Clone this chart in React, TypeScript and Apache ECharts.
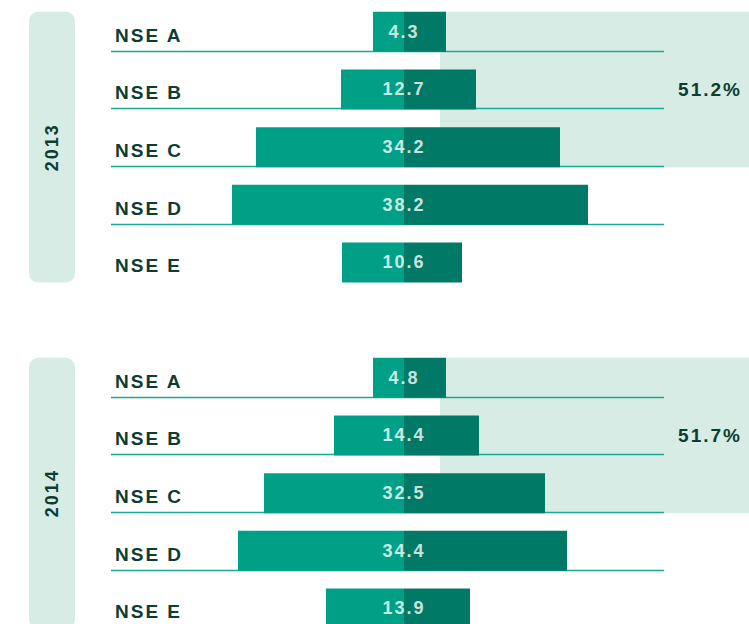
import React, { useEffect, useRef } from 'react';
import * as echarts from 'echarts';

const years = ['2013', '2014'];
const segments = ['NSE A', 'NSE B', 'NSE C', 'NSE D', 'NSE E'];
const values2013 = [4.3, 12.7, 34.2, 38.2, 10.6];
const values2014 = [4.8, 14.4, 32.5, 34.4, 13.9];
// bar extents either side of the centre line (axis units)
const lightLen2013 = [3.1, 6.3, 14.8, 17.2, 6.2];
const darkLen2013 = [4.2, 7.2, 15.6, 18.4, 5.8];
const lightLen2014 = [3.1, 7.0, 14.0, 16.6, 7.8];
const darkLen2014 = [4.2, 7.5, 14.1, 16.3, 6.6];
const highlightedCount = 3; // NSE A–C share shown in the pale box

const FONT = "'Liberation Sans', Arial, Helvetica, sans-serif";
const TEXT_DARK = '#0d3d30';
const LIGHT = '#00a087';
const DARK = '#007a66';
const PALE = '#d8ece6';
const RULE = '#19ab91';
const CANVAS_H = 680;

export default function App() {
  const ref = useRef<HTMLDivElement>(null);

  useEffect(() => {
    const el = ref.current!;
    const chart = echarts.init(el, undefined, { renderer: 'svg', width: 749, height: CANVAS_H });

    const groups = [
      { year: years[0], values: values2013, light: lightLen2013, dark: darkLen2013 },
      { year: years[1], values: values2014, light: lightLen2014, dark: darkLen2014 },
    ];

    const categories: string[] = [];
    const lightData: any[] = [];
    const darkData: any[] = [];
    const labelData: any[] = [];
    const starts: number[] = [];
    groups.forEach((g, gi) => {
      if (gi > 0) {
        categories.push('gap');
        lightData.push('-');
        darkData.push('-');
      }
      starts.push(categories.length);
      segments.forEach((s, i) => {
        const idx = categories.length;
        categories.push(`${g.year}|${s}`);
        lightData.push(-g.light[i]);
        darkData.push(g.dark[i]);
        labelData.push({ value: [0, idx, g.values[i]] });
      });
    });

    const textStyleBase = {
      fontFamily: FONT,
      fontWeight: 'bold' as const,
      fontSize: 18,
    };

    chart.setOption({
      animation: false,
      grid: { left: 104, top: 3, width: 560, height: 634.3, containLabel: false },
      xAxis: { type: 'value', min: -30, max: 26, show: false },
      yAxis: {
        type: 'category',
        data: categories,
        inverse: true,
        axisLine: { show: false },
        axisTick: { show: false },
        splitLine: { show: false },
        axisLabel: {
          interval: 0,
          align: 'left',
          margin: -11,
          verticalAlign: 'top',
          lineHeight: 7,
          color: TEXT_DARK,
          ...textStyleBase,
          fontSize: 19,
          formatter: (v: string) => v.split('|')[1] ?? '',
        },
      },
      series: [
        {
          type: 'bar',
          stack: 'share',
          barWidth: 40,
          silent: true,
          itemStyle: { color: LIGHT },
          data: lightData,
          z: 3,
        },
        {
          type: 'bar',
          stack: 'share',
          barWidth: 40,
          silent: true,
          itemStyle: { color: DARK },
          data: darkData,
          z: 3,
        },
        {
          type: 'scatter',
          symbolSize: 1,
          silent: true,
          itemStyle: { color: 'rgba(0,0,0,0)' },
          data: labelData,
          z: 6,
          label: {
            show: true,
            position: 'inside',
            color: '#ffffff',
            ...textStyleBase,
            formatter: (p: any) => Number(p.value[2]).toFixed(1),
          },
        },
      ],
    });

    const yc = (row: number) => chart.convertToPixel({ yAxisIndex: 0 }, row) as number;
    const xp = (v: number) => chart.convertToPixel({ xAxisIndex: 0 }, v) as number;
    const half = 20;
    const graphics: any[] = [];
    groups.forEach((g, gi) => {
      const s = starts[gi];
      const top = yc(s) - half;
      const bottom = yc(s + segments.length - 1) + half;
      graphics.push({
        type: 'rect',
        z: 0,
        silent: true,
        shape: { x: 29, y: top, width: 46, height: bottom - top, r: 9 },
        style: { fill: PALE },
      });
      graphics.push({
        type: 'text',
        z: 1,
        silent: true,
        x: 52,
        y: (top + bottom) / 2,
        rotation: Math.PI / 2,
        style: {
          text: g.year,
          fill: TEXT_DARK,
          font: `bold 18px ${FONT}`,
          align: 'center',
          verticalAlign: 'middle',
        },
      });
      const boxTop = top;
      const boxBottom = yc(s + highlightedCount - 1) + half;
      const boxLeft = xp(3.6);
      graphics.push({
        type: 'rect',
        z: 0,
        silent: true,
        shape: { x: boxLeft, y: boxTop, width: 749 - boxLeft, height: boxBottom - boxTop },
        style: { fill: PALE },
      });
      const share = g.values.slice(0, highlightedCount).reduce((a, b) => a + b, 0);
      graphics.push({
        type: 'text',
        z: 2,
        silent: true,
        x: 710,
        y: yc(s + 1),
        style: {
          text: `${share.toFixed(1)}%`,
          fill: TEXT_DARK,
          font: `bold 19px ${FONT}`,
          align: 'center',
          verticalAlign: 'middle',
        },
      });
      for (let r = s; r < s + segments.length - 1; r++) {
        const y = Math.round(yc(r) + half - 1) + 0.5;
        graphics.push({
          type: 'line',
          z: 1,
          silent: true,
          shape: { x1: 111, y1: y, x2: xp(26), y2: y },
          style: { stroke: RULE, lineWidth: 1.3 },
        });
      }
    });
    chart.setOption({ graphic: graphics });

    const applySpacing = () => {
      el.querySelectorAll('text').forEach((t) => t.setAttribute('letter-spacing', '2'));
    };
    applySpacing();
    chart.on('finished', applySpacing);
    const raf = requestAnimationFrame(applySpacing);

    return () => {
      cancelAnimationFrame(raf);
      chart.dispose();
    };
  }, []);

  return (
    <div
      ref={ref}
      style={{ position: 'fixed', left: 0, top: 0, width: 749, height: CANVAS_H, background: '#ffffff' }}
    />
  );
}
